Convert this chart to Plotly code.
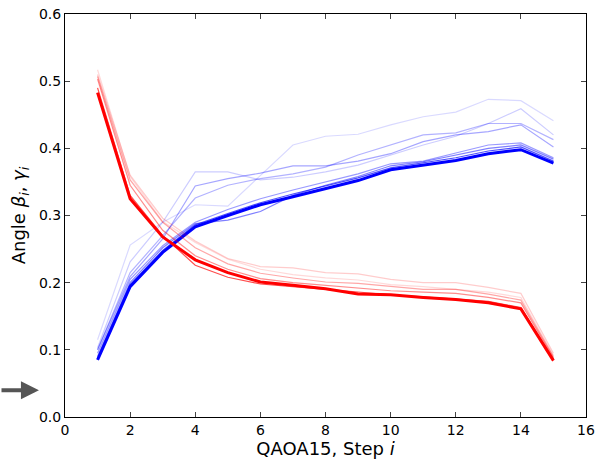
import plotly.graph_objects as go

steps = list(range(1, 16))

# beta (blue) series, faint -> strong
beta_S = [0.115, 0.256, 0.290, 0.316, 0.314, 0.360, 0.405, 0.418, 0.421, 0.435, 0.447, 0.454, 0.473, 0.471, 0.441]
beta_R = [0.103, 0.231, 0.290, 0.365, 0.365, 0.353, 0.357, 0.365, 0.375, 0.390, 0.405, 0.418, 0.437, 0.459, 0.420]
beta_Q = [0.100, 0.215, 0.270, 0.326, 0.345, 0.355, 0.362, 0.372, 0.390, 0.405, 0.420, 0.423, 0.437, 0.437, 0.413]
beta_P = [0.100, 0.209, 0.265, 0.344, 0.355, 0.363, 0.374, 0.374, 0.381, 0.392, 0.410, 0.420, 0.425, 0.435, 0.402]
beta_3 = [0.095, 0.205, 0.255, 0.290, 0.309, 0.325, 0.338, 0.350, 0.362, 0.377, 0.381, 0.393, 0.405, 0.408, 0.386]
beta_2 = [0.090, 0.200, 0.252, 0.288, 0.293, 0.306, 0.330, 0.345, 0.358, 0.374, 0.380, 0.390, 0.400, 0.405, 0.384]
beta_1 = [0.087, 0.197, 0.248, 0.286, 0.303, 0.319, 0.332, 0.344, 0.356, 0.371, 0.378, 0.386, 0.396, 0.402, 0.381]
beta_0 = [0.085, 0.194, 0.245, 0.283, 0.300, 0.316, 0.328, 0.340, 0.352, 0.368, 0.375, 0.382, 0.392, 0.398, 0.378]

# gamma (red) series, faint -> strong
gamma_5 = [0.517, 0.358, 0.291, 0.260, 0.235, 0.220, 0.212, 0.207, 0.204, 0.197, 0.194, 0.190, 0.186, 0.178, 0.092]
gamma_4 = [0.510, 0.360, 0.296, 0.262, 0.236, 0.224, 0.222, 0.215, 0.213, 0.205, 0.200, 0.200, 0.193, 0.184, 0.095]
gamma_3 = [0.507, 0.353, 0.290, 0.252, 0.228, 0.214, 0.207, 0.201, 0.199, 0.195, 0.190, 0.190, 0.183, 0.174, 0.090]
gamma_2 = [0.503, 0.345, 0.278, 0.240, 0.220, 0.206, 0.200, 0.196, 0.192, 0.188, 0.186, 0.184, 0.178, 0.170, 0.088]
gamma_1 = [0.490, 0.330, 0.270, 0.226, 0.208, 0.198, 0.194, 0.190, 0.185, 0.182, 0.179, 0.176, 0.172, 0.163, 0.086]
gamma_0 = [0.483, 0.325, 0.268, 0.234, 0.215, 0.201, 0.196, 0.191, 0.183, 0.182, 0.178, 0.175, 0.170, 0.161, 0.084]

beta_series = [(beta_S, 0.15, 1.2), (beta_R, 0.2, 1.2), (beta_Q, 0.3, 1.2), (beta_P, 0.35, 1.2),
               (beta_3, 0.4, 1.2), (beta_2, 0.5, 1.2), (beta_1, 0.7, 1.2), (beta_0, 1.0, 3)]
gamma_series = [(gamma_5, 0.15, 1.2), (gamma_4, 0.2, 1.2), (gamma_3, 0.35, 1.2), (gamma_2, 0.45, 1.2),
                (gamma_1, 0.7, 1.2), (gamma_0, 1.0, 3)]

fig = go.Figure()
for vals, a, w in beta_series:
    fig.add_trace(go.Scatter(x=steps, y=vals, mode="lines",
                             line=dict(color=f"rgba(0,0,255,{a})", width=w), showlegend=False))
for vals, a, w in gamma_series:
    fig.add_trace(go.Scatter(x=steps, y=vals, mode="lines",
                             line=dict(color=f"rgba(255,0,0,{a})", width=w), showlegend=False))

font = "DejaVu Sans, Liberation Sans, sans-serif"
fig.update_layout(
    width=596, height=460,
    margin=dict(l=65, r=10, t=14, b=43),
    plot_bgcolor="white", paper_bgcolor="white",
    font=dict(family=font, size=14, color="black"),
    xaxis=dict(range=[0, 16], tickvals=list(range(0, 17, 2)), ticks="inside", ticklen=5,
               showline=True, linecolor="black", linewidth=1, mirror="ticks", showgrid=False,
               zeroline=False, tickfont=dict(size=14), automargin=False,
               title=dict(text="QAOA15, Step <i>i</i>", font=dict(size=18), standoff=4)),
    yaxis=dict(range=[0, 0.6], tickvals=[0, 0.1, 0.2, 0.3, 0.4, 0.5, 0.6], tickformat=".1f",
               ticks="inside", ticklen=5, showline=True, linecolor="black", linewidth=1,
               mirror="ticks", showgrid=False, zeroline=False, tickfont=dict(size=14), automargin=False,
               title=dict(text="Angle <i>β<sub>i</sub></i>, <i>γ<sub>i</sub></i>", font=dict(size=18), standoff=8)),
)

fig.add_annotation(x=-0.05, y=0.04, xref="paper", yref="y", ax=-39, ay=0, axref="pixel", ayref="pixel",
                   text="", showarrow=True, arrowhead=2, arrowsize=0.9, arrowwidth=4,
                   arrowcolor="#555555")

fig.write_html("out.html")
